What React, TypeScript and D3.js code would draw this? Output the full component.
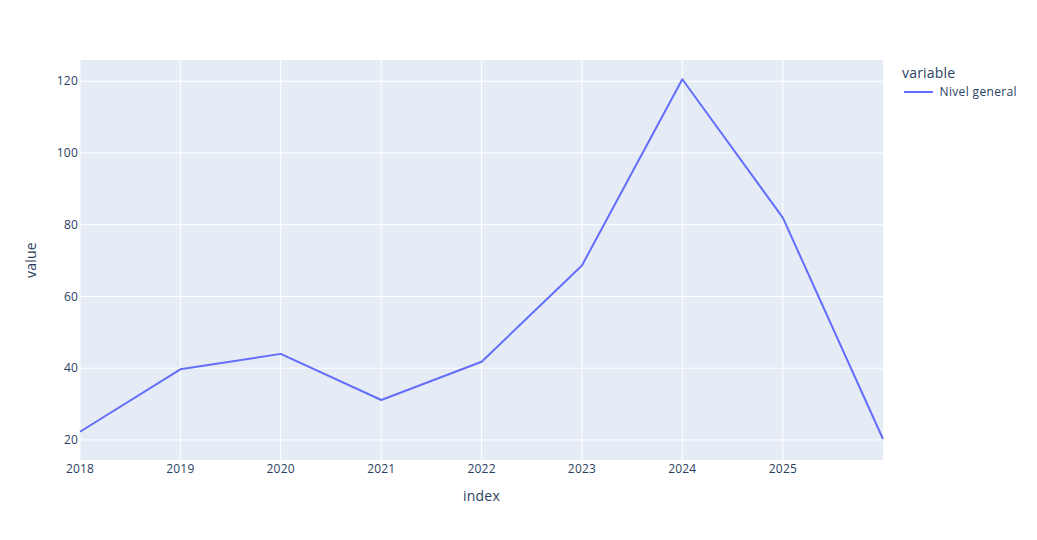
import React from "react";
import * as d3 from "d3";

const dates: string[] = [
  "2018-01-01", "2019-01-01", "2020-01-01", "2021-01-01", "2022-01-01",
  "2023-01-01", "2024-01-01", "2025-01-01", "2025-12-31",
];
const values: number[] = [22.3, 39.7, 44.0, 31.15, 41.8, 68.65, 120.55, 81.9, 20.28];
const yTicks: number[] = [20, 40, 60, 80, 100, 120];
const xTickYears: number[] = [2018, 2019, 2020, 2021, 2022, 2023, 2024, 2025];
const seriesName = "Nivel general";

const W = 1037, H = 540;
const M = { left: 80, right: 154, top: 60, bottom: 80 };
const FONT = '"Open Sans", verdana, arial, sans-serif';
const TXT = "#2a3f5f";

export default function App() {
  const parsed = dates.map((d) => new Date(d + "T00:00:00Z"));
  const x = d3.scaleUtc()
    .domain(d3.extent(parsed) as [Date, Date])
    .range([M.left, W - M.right]);
  const y = d3.scaleLinear().domain([14.42, 125.92]).range([H - M.bottom, M.top]);
  const line = d3.line<number>()
    .x((_, i) => x(parsed[i]))
    .y((v) => y(v));
  const xTicks = xTickYears.map((yr) => new Date(Date.UTC(yr, 0, 1)));

  return (
    <svg width={W} height={H} style={{ position: "absolute", left: 0, top: 0 }} fontFamily={FONT}>
      <rect x={0} y={0} width={W} height={H} fill="#fff" />
      <rect x={M.left} y={M.top} width={W - M.left - M.right} height={H - M.top - M.bottom} fill="#E5ECF6" />
      {yTicks.map((t) => (
        <line key={"gy" + t} x1={M.left} x2={W - M.right} y1={y(t)} y2={y(t)} stroke="#fff" strokeWidth={1} />
      ))}
      {xTicks.map((t, i) => (
        <line key={"gx" + i} x1={x(t)} x2={x(t)} y1={M.top} y2={H - M.bottom} stroke="#fff" strokeWidth={1} />
      ))}
      <path d={line(values) || ""} fill="none" stroke="#636efa" strokeWidth={2} strokeLinejoin="round" />
      {yTicks.map((t) => (
        <text key={"ty" + t} x={M.left - 2} y={y(t)} dy="0.35em" textAnchor="end" fontSize={12} letterSpacing={0.2} fill={TXT}>{t}</text>
      ))}
      {xTicks.map((t, i) => (
        <text key={"tx" + i} x={x(t)} y={H - M.bottom + 13} textAnchor="middle" fontSize={12} letterSpacing={0.2} fill={TXT}>{xTickYears[i]}</text>
      ))}
      <text x={(M.left + W - M.right) / 2} y={501} textAnchor="middle" fontSize={14} letterSpacing={0.2} fill={TXT}>index</text>
      <text transform={`translate(36,${(M.top + H - M.bottom) / 2}) rotate(-90)`} textAnchor="middle" fontSize={14} letterSpacing={0.2} fill={TXT}>value</text>
      <text x={902} y={77.5} fontSize={14} letterSpacing={0.2} fill={TXT}>variable</text>
      <line x1={904} x2={933} y1={92} y2={92} stroke="#636efa" strokeWidth={2} />
      <text x={939.5} y={96} fontSize={12} letterSpacing={0.35} fill={TXT}>{seriesName}</text>
    </svg>
  );
}
